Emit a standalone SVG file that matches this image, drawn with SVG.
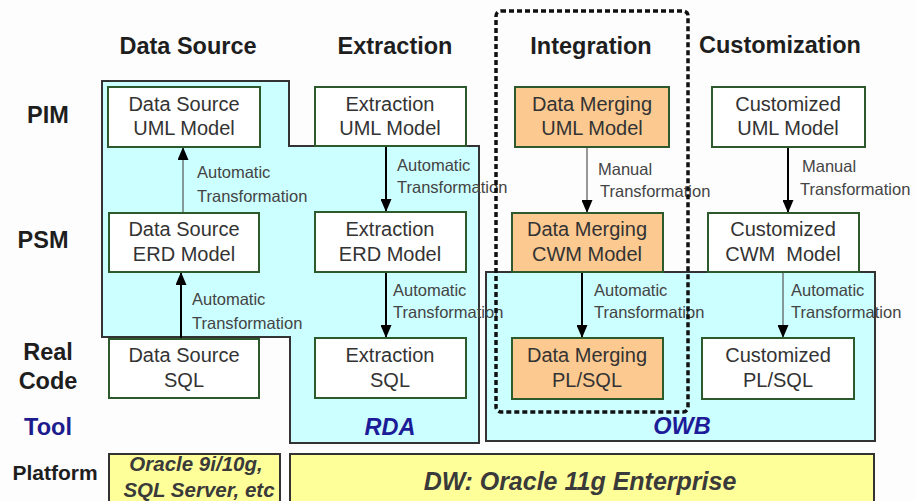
<svg xmlns="http://www.w3.org/2000/svg" width="916" height="501" viewBox="0 0 916 501">
  <style>
    .head { font-family: "Liberation Sans", Arial, sans-serif; font-weight: bold; font-size: 23.5px; fill: #1e1e1e; text-anchor: middle; }
    .row { font-family: "Liberation Sans", Arial, sans-serif; font-weight: bold; font-size: 23.5px; fill: #1e1e1e; text-anchor: middle; }
    .tool { font-family: "Liberation Sans", Arial, sans-serif; font-weight: bold; font-size: 23.5px; fill: #1c1c8e; text-anchor: middle; }
    .toolname { font-family: "Liberation Sans", Arial, sans-serif; font-weight: bold; font-style: italic; font-size: 23.5px; fill: #1c1c99; text-anchor: middle; }
    .zone { fill: #ccffff; stroke: #333; stroke-width: 2; }
    .node { fill: #ffffff; stroke: #2d5a2d; stroke-width: 2; }
    .merge { fill: #fcc990; stroke: #2d5a2d; stroke-width: 2; }
    .ntext { font-family: "Liberation Sans", Arial, sans-serif; font-size: 20px; fill: #333; text-anchor: middle; }
    .lbl { font-family: "Liberation Sans", Arial, sans-serif; font-size: 16.5px; fill: #444; }
    .plat { fill: #ffff99; stroke: #333; stroke-width: 2; }
    .ptext { font-family: "Liberation Sans", Arial, sans-serif; font-weight: bold; font-style: italic; fill: #3a3a3a; text-anchor: middle; }
    .thick { stroke: #000; stroke-width: 2; fill: none; marker-end: url(#head); }
    .thin { stroke: #555; stroke-width: 1.2; fill: none; marker-end: url(#head); }
    .scope { fill: none; stroke: #111; stroke-width: 3.5; stroke-dasharray: 5 3; }
  </style>
  <defs>
    <marker id="head" viewBox="0 0 13 11" refX="13" refY="5.5" markerWidth="13" markerHeight="11" markerUnits="userSpaceOnUse" orient="auto">
      <path d="M0,0 L13,5.5 L0,11 z" fill="#000"/>
    </marker>
  </defs>

  <rect width="916" height="501" fill="#fdfdfd"/>

  <!-- column headings -->
  <g id="headings">
    <text class="head" x="188" y="54">Data Source</text>
    <text class="head" x="395" y="54">Extraction</text>
    <text class="head" x="591" y="54">Integration</text>
    <text class="head" x="780" y="53">Customization</text>
  </g>

  <!-- row headings -->
  <g id="rows">
    <text class="row" x="48" y="123">PIM</text>
    <text class="row" x="43" y="248">PSM</text>
    <text class="row" x="48" y="360">Real</text>
    <text class="row" x="48" y="389">Code</text>
    <text class="tool" x="48" y="435">Tool</text>
    <text class="row" x="55" y="480" style="font-size:21px">Platform</text>
  </g>

  <!-- tool zones -->
  <g id="rda">
    <polygon class="zone" points="102,81 289,81 289,146 479,146 479,443 290,443 290,337 102,337"/>
    <text class="toolname" x="390" y="435">RDA</text>
  </g>
  <g id="owb">
    <rect class="zone" x="486" y="272" width="389" height="169"/>
    <text class="toolname" x="682" y="434">OWB</text>
  </g>

  <!-- platforms -->
  <g id="platform-source">
    <rect class="plat" x="109" y="454" width="171" height="60"/>
    <text class="ptext" x="196" y="471" style="font-size:20.5px">Oracle 9i/10g,</text>
    <text class="ptext" x="199" y="497" style="font-size:20.5px">SQL Server, etc</text>
  </g>
  <g id="platform-dw">
    <rect class="plat" x="290" y="454" width="584" height="60"/>
    <text class="ptext" x="580" y="490" style="font-size:25px">DW: Oracle 11g Enterprise</text>
  </g>

  <!-- connectors -->
  <g id="connectors">
    <line class="thin" x1="183" y1="213" x2="183" y2="147"/>
    <line class="thick" x1="181" y1="339" x2="181" y2="272"/>
    <line class="thick" x1="386" y1="146" x2="386" y2="212"/>
    <line class="thick" x1="386" y1="272" x2="386" y2="338"/>
    <line class="thin" x1="587" y1="147" x2="587" y2="213"/>
    <line class="thick" x1="582" y1="272" x2="582" y2="338"/>
    <line class="thick" x1="788" y1="147" x2="788" y2="213"/>
    <line class="thin" x1="783" y1="272" x2="783" y2="338"/>
  </g>

  <!-- connector labels -->
  <g id="connector-labels">
    <text class="lbl" x="197" y="178">Automatic</text>
    <text class="lbl" x="197" y="202">Transformation</text>
    <text class="lbl" x="192" y="305">Automatic</text>
    <text class="lbl" x="192" y="329">Transformation</text>
    <text class="lbl" x="397" y="171">Automatic</text>
    <text class="lbl" x="397" y="193">Transformation</text>
    <text class="lbl" x="393" y="296">Automatic</text>
    <text class="lbl" x="393" y="318">Transformation</text>
    <text class="lbl" x="598" y="175">Manual</text>
    <text class="lbl" x="600" y="197">Transformation</text>
    <text class="lbl" x="594" y="296">Automatic</text>
    <text class="lbl" x="594" y="318">Transformation</text>
    <text class="lbl" x="802" y="172">Manual</text>
    <text class="lbl" x="800" y="195">Transformation</text>
    <text class="lbl" x="791" y="296">Automatic</text>
    <text class="lbl" x="791" y="318">Transformation</text>
  </g>

  <!-- Data Source column -->
  <g id="ds-uml">
    <rect class="node" x="108" y="87" width="152" height="60"/>
    <text class="ntext" x="184" y="111">Data Source</text>
    <text class="ntext" x="184" y="135">UML Model</text>
  </g>
  <g id="ds-erd">
    <rect class="node" x="109" y="213" width="150" height="59"/>
    <text class="ntext" x="184" y="236">Data Source</text>
    <text class="ntext" x="184" y="261">ERD Model</text>
  </g>
  <g id="ds-sql">
    <rect class="node" x="109" y="339" width="150" height="59"/>
    <text class="ntext" x="184" y="362">Data Source</text>
    <text class="ntext" x="184" y="387">SQL</text>
  </g>

  <!-- Extraction column -->
  <g id="ext-uml">
    <rect class="node" x="315" y="87" width="151" height="59"/>
    <text class="ntext" x="390" y="111">Extraction</text>
    <text class="ntext" x="390" y="135">UML Model</text>
  </g>
  <g id="ext-erd">
    <rect class="node" x="315" y="212" width="151" height="60"/>
    <text class="ntext" x="390" y="236">Extraction</text>
    <text class="ntext" x="390" y="261">ERD Model</text>
  </g>
  <g id="ext-sql">
    <rect class="node" x="315" y="338" width="151" height="60"/>
    <text class="ntext" x="390" y="362">Extraction</text>
    <text class="ntext" x="390" y="387">SQL</text>
  </g>

  <!-- Integration column -->
  <g id="dm-uml">
    <rect class="merge" x="515" y="87" width="154" height="60"/>
    <text class="ntext" x="592" y="111">Data Merging</text>
    <text class="ntext" x="592" y="135">UML Model</text>
  </g>
  <g id="dm-cwm">
    <rect class="merge" x="512" y="213" width="151" height="59"/>
    <text class="ntext" x="587" y="236">Data Merging</text>
    <text class="ntext" x="587" y="261">CWM Model</text>
  </g>
  <g id="dm-plsql">
    <rect class="merge" x="512" y="338" width="151" height="61"/>
    <text class="ntext" x="587" y="362">Data Merging</text>
    <text class="ntext" x="587" y="387">PL/SQL</text>
  </g>

  <!-- Customization column -->
  <g id="cust-uml">
    <rect class="node" x="712" y="87" width="153" height="60"/>
    <text class="ntext" x="788" y="111">Customized</text>
    <text class="ntext" x="788" y="135">UML Model</text>
  </g>
  <g id="cust-cwm">
    <rect class="node" x="708" y="213" width="151" height="59"/>
    <text class="ntext" x="783" y="236">Customized</text>
    <text class="ntext" x="783" y="261">CWM&#160; Model</text>
  </g>
  <g id="cust-plsql">
    <rect class="node" x="702" y="338" width="152" height="61"/>
    <text class="ntext" x="778" y="362">Customized</text>
    <text class="ntext" x="778" y="387">PL/SQL</text>
  </g>

  <!-- integration scope outline -->
  <g id="integration-scope">
    <rect class="scope" x="496" y="11" width="192" height="401" rx="5"/>
  </g>
</svg>
